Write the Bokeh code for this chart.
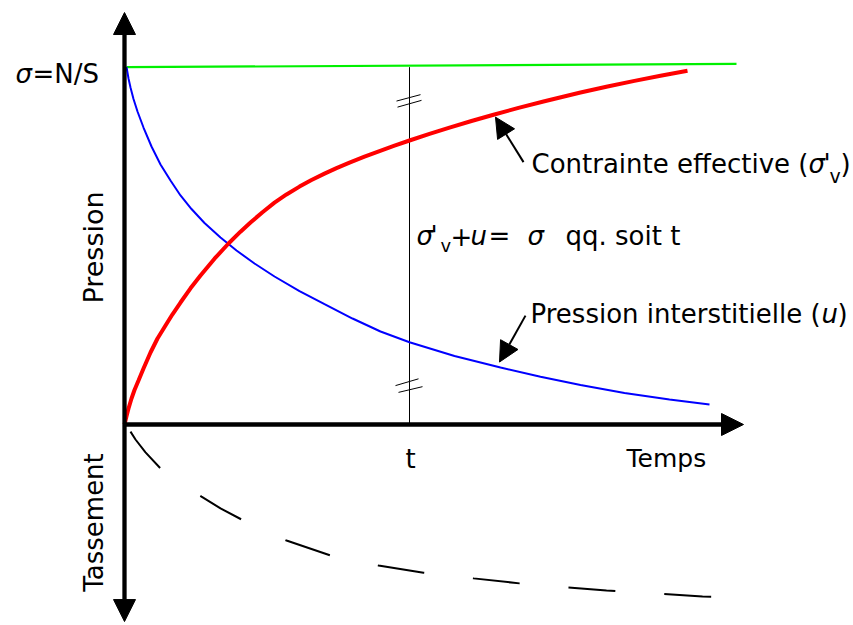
import math
from bokeh.plotting import figure
from bokeh.models import Range1d, Arrow, NormalHead, Label
from bokeh.embed import file_html
from bokeh.resources import INLINE

# ---------------- data (time in arbitrary units, pressure in % of sigma) ----
t_mark = 28.5                      # the instant "t"
sigma_time = [0.2, 61.2]           # total stress sigma = N/S
sigma_p = [100.1, 101.0]

# effective stress sigma'_v (red)
eff_time = [0.0, 0.2, 0.4, 0.7, 1.0, 1.4, 1.9, 2.6, 3.3, 4.1, 4.8, 5.6, 6.6, 7.6, 9.0, 10.4,
            11.6, 12.6, 13.8, 15.0, 16.2, 17.5, 18.7, 20.0, 21.2, 22.5, 24.0, 25.5, 27.0, 28.5,
            30.5, 32.5, 34.7, 36.9, 39.4, 42.0, 45.6, 48.3, 51.0, 53.6, 56.3]
eff_p = [0.0, 2.32, 4.48, 7.28, 9.66, 12.32, 15.69, 20.17, 24.09, 27.73, 30.87, 34.17, 38.15,
         41.74, 46.44, 50.70, 54.01, 56.58, 59.47, 62.16, 64.45, 66.64, 68.49, 70.28, 71.82,
         73.36, 75.04, 76.61, 78.12, 79.55, 81.40, 83.16, 85.01, 86.78, 88.68, 90.56, 93.00,
         94.68, 96.25, 97.68, 99.08]

# pore pressure u (blue)
pore_time = [0.2, 0.4, 0.6, 0.9, 1.3, 1.9, 2.7, 3.6, 4.6, 5.6, 6.7, 8.0, 9.6, 11.2, 13.0, 15.0,
             17.5, 20.0, 22.8, 25.6, 28.5, 33.0, 37.6, 41.6, 45.6, 50.0, 54.5, 58.5]
pore_p = [100.14, 96.92, 94.40, 91.18, 87.68, 83.19, 77.87, 72.83, 68.35, 64.15, 60.36, 56.44,
          52.38, 48.74, 45.10, 41.46, 37.39, 33.75, 29.69, 26.05, 23.05, 19.19, 15.97, 13.39,
          11.06, 8.82, 7.00, 5.60]

# settlement (dashed, below the time axis)
sett_time = [0.6, 1.1, 2.1, 3.6, 5.6, 7.7, 9.6, 11.7, 13.9, 16.2, 20.6, 25.4, 29.9, 34.9,
             39.5, 43.2, 48.2, 53.2, 57.8, 62.3]
sett_val = [-2.0, -4.2, -7.8, -12.3, -16.5, -20.2, -23.5, -26.6, -29.7, -32.5, -36.7, -39.5,
            -41.5, -43.1, -44.5, -45.4, -46.5, -47.3, -48.2, -48.6]

# axis extents
axis_top, axis_bottom, time_end = 115.4, -55.2, 61.9

# break marks on the t line
brk_x0 = [27.2, 27.3, 27.1, 27.4]
brk_y0 = [90.6, 88.9, 10.9, 9.0]
brk_x1 = [29.6, 29.7, 29.4, 29.8]
brk_y1 = [92.4, 90.8, 12.8, 10.6]

# annotation arrows (tail -> tip)
eff_arrow = (39.9, 73.5, 37.1, 86.1)
pore_arrow = (40.1, 30.5, 37.5, 17.5)

FONT = "DejaVu Sans"
FS = 26
W, H = 853, 625

p = figure(width=W, height=H, x_range=Range1d(-12.4, 72.9), y_range=Range1d(-56.30, 118.77),
           output_backend="svg", toolbar_location=None, min_border=0,
           x_axis_type=None, y_axis_type=None, outline_line_color=None)
p.grid.visible = False
p.background_fill_color = "white"
p.border_fill_color = "white"

# vertical t line and break marks
p.segment(x0=[t_mark], y0=[0], x1=[t_mark], y1=[sigma_p[0]], line_color="black", line_width=1)
p.segment(x0=brk_x0, y0=brk_y0, x1=brk_x1, y1=brk_y1, line_color="black", line_width=1)

# curves
p.line(sigma_time, sigma_p, line_color="#00f000", line_width=2.2)
p.line(pore_time, pore_p, line_color="#0000ff", line_width=2)
p.line(eff_time, eff_p, line_color="#ff0000", line_width=4)
p.line(sett_time, sett_val, line_color="black", line_width=2, line_dash="47 49")

# axes with arrows
p.add_layout(Arrow(x_start=0, y_start=axis_bottom, x_end=0, y_end=axis_top,
                   start=NormalHead(size=22, fill_color="black", line_color="black"),
                   end=NormalHead(size=22, fill_color="black", line_color="black"),
                   line_width=4.3, line_color="black"))
p.add_layout(Arrow(x_start=0, y_start=0, x_end=time_end, y_end=0,
                   end=NormalHead(size=22, fill_color="black", line_color="black"),
                   line_width=4.3, line_color="black"))

for a in (eff_arrow, pore_arrow):
    p.add_layout(Arrow(x_start=a[0], y_start=a[1], x_end=a[2], y_end=a[3],
                       end=NormalHead(size=20, fill_color="black", line_color="black"),
                       line_width=2, line_color="black"))


def lab(text, x, y, size=FS, style="normal", angle=0.0, align="left"):
    # x, y: screen pixels from the bottom-left corner of the canvas
    p.add_layout(Label(x=x, y=y, x_units="screen", y_units="screen", text=text,
                       text_font=FONT, text_font_size=f"{size}px", text_font_style=style,
                       angle=angle, text_align=align, text_baseline="alphabetic",
                       text_color="black"))


# sigma = N/S
lab("σ", 15, 552, style="italic")
lab("=N/S", 32, 552)
# axis titles
lab("Pression", 93, 378, size=27, angle=math.pi / 2, align="center")
lab("Tassement", 93, 103, angle=math.pi / 2, align="center")
lab("t", 410, 167, align="center")
lab("Temps", 626, 167, size=25)
# effective stress label
lab("Contrainte effective (", 531, 462)
lab("σ", 808, 462, style="italic")
lab("'", 823, 462)
lab("v", 829, 450, size=19)
lab(")", 840, 462)
# pore pressure label
lab("Pression interstitielle (", 530, 312)
lab("u", 821, 312, style="italic")
lab(")", 837, 312)
# relation
lab("σ", 416, 390, style="italic")
lab("'", 430, 390)
lab("v", 440, 380, size=18)
lab("+", 450, 390)
lab("u", 470, 390, style="italic")
lab("=", 488, 390)
lab("σ", 527, 390, style="italic")
lab("qq. soit t", 565, 390)

open("out.html", "w").write(file_html(p, INLINE))
